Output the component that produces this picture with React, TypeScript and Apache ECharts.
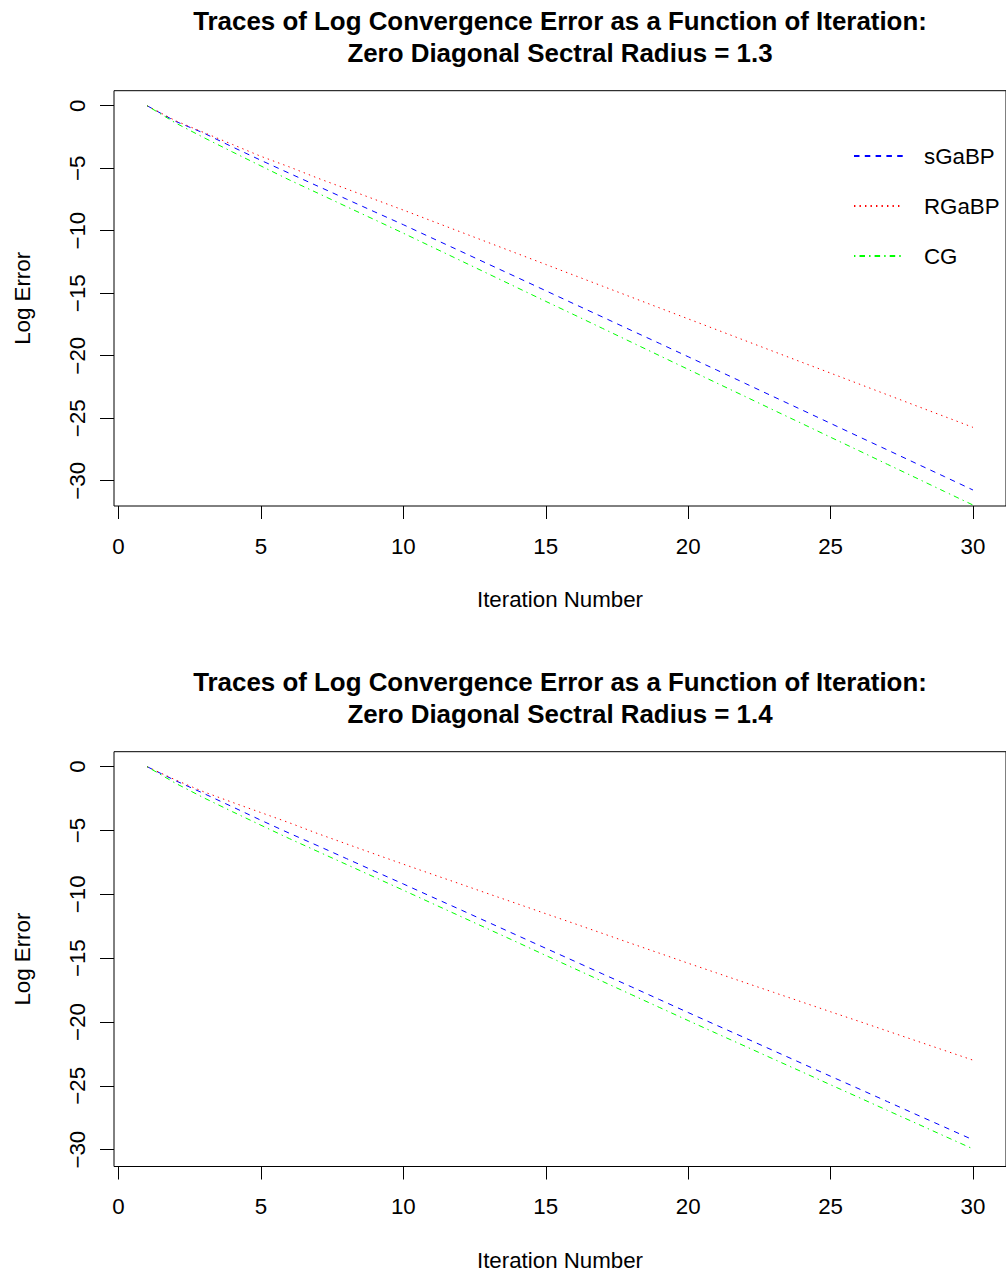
import React, { useEffect, useRef } from "react";
import * as echarts from "echarts";

const iterations = [1, 2, 3, 4, 5, 6, 7, 8, 9, 10, 11, 12, 13, 14, 15, 16, 17, 18, 19, 20, 21, 22, 23, 24, 25, 26, 27, 28, 29, 30];

const seriesNames = ["sGaBP", "RGaBP", "CG"];

// Top panel: spectral radius 1.3
const topSGaBP = [0, -1.25, -2.2, -3.3, -4.37, -5.41, -6.44, -7.47, -8.5, -9.52, -10.58, -11.63, -12.69, -13.74, -14.8, -15.86, -16.91, -17.97, -19.02, -20.08, -21.14, -22.21, -23.28, -24.34, -25.41, -26.48, -27.54, -28.61, -29.67, -30.74];
const topRGaBP = [0, -1.2, -2.15, -3.1, -4.05, -4.9, -5.8, -6.65, -7.5, -8.35, -9.22, -10.09, -10.96, -11.83, -12.7, -13.57, -14.44, -15.31, -16.18, -17.05, -17.92, -18.79, -19.66, -20.53, -21.39, -22.26, -23.13, -24.0, -24.86, -25.73];
const topCG = [0, -1.38, -2.56, -3.7, -4.82, -5.94, -7.0, -8.07, -9.13, -10.2, -11.29, -12.38, -13.47, -14.56, -15.65, -16.73, -17.82, -18.91, -20.0, -21.09, -22.18, -23.26, -24.35, -25.43, -26.52, -27.6, -28.69, -29.77, -30.86, -31.94];

// Bottom panel: spectral radius 1.4
const botSGaBP = [0, -1.1, -2.11, -3.15, -4.2, -5.22, -6.2, -7.2, -8.2, -9.19, -10.2, -11.2, -12.21, -13.22, -14.23, -15.23, -16.24, -17.24, -18.25, -19.26, -20.26, -21.25, -22.25, -23.25, -24.25, -25.24, -26.24, -27.24, -28.23, -29.23];
const botRGaBP = [0, -1.04, -1.98, -2.8, -3.6, -4.4, -5.25, -6.05, -6.85, -7.64, -8.42, -9.19, -9.97, -10.74, -11.52, -12.29, -13.07, -13.85, -14.62, -15.4, -16.16, -16.92, -17.68, -18.44, -19.2, -19.95, -20.71, -21.47, -22.23, -22.99];
const botCG = [0, -1.3, -2.45, -3.53, -4.59, -5.64, -6.65, -7.66, -8.67, -9.68, -10.7, -11.72, -12.74, -13.76, -14.79, -15.81, -16.83, -17.85, -18.87, -19.89, -20.9, -21.9, -22.91, -23.91, -24.92, -25.92, -26.93, -27.93, -28.94, -29.94];

const xTicks = [0, 5, 10, 15, 20, 25, 30];
const yTicks = [0, -5, -10, -15, -20, -25, -30];

const titleTop = "Traces of Log Convergence Error as a Function of Iteration:\nZero Diagonal Sectral Radius = 1.3";
const titleBot = "Traces of Log Convergence Error as a Function of Iteration:\nZero Diagonal Sectral Radius = 1.4";

const FONT = "'Liberation Sans', Arial, Helvetica, sans-serif";
const FS = 22.3;
const colors = ["#0000FF", "#FF0000", "#00FF00"];
const dashes: number[][] = [
  [5.5, 5.3],
  [1.4, 4.1],
  [1.4, 4.1, 5.5, 4.1],
];

export default function App() {
  const ref = useRef<HTMLDivElement>(null);

  useEffect(() => {
    if (!ref.current) return;
    const chart = echarts.init(ref.current, undefined, { renderer: "svg" });

    const panels = [
      { data: [topSGaBP, topRGaBP, topCG], top: 90.7, yMin: -32.02, yMax: 1.2 },
      { data: [botSGaBP, botRGaBP, botCG], top: 751.7, yMin: -31.32, yMax: 1.17 },
    ];

    const grids = panels.map((p) => ({
      left: 114,
      top: p.top,
      width: 893,
      height: 415.3,
      show: true,
      borderColor: "#000",
      borderWidth: 1,
      backgroundColor: "transparent",
    }));

    const xAxes = panels.map((_, i) => ({
      type: "value",
      gridIndex: i,
      position: "bottom",
      min: -0.16,
      max: 31.16,
      name: "Iteration Number",
      nameLocation: "middle",
      nameGap: 82.5,
      nameTextStyle: { fontFamily: FONT, fontSize: FS, color: "#000" },
      axisLine: { show: false, onZero: false },
      axisTick: { show: true, inside: false, length: 13, customValues: xTicks, lineStyle: { color: "#000", width: 1 } },
      axisLabel: { show: true, customValues: xTicks, margin: 29, fontFamily: FONT, fontSize: FS, color: "#000" },
      splitLine: { show: false },
    }));

    const yAxes = panels.map((p, i) => ({
      type: "value",
      gridIndex: i,
      position: "left",
      min: p.yMin,
      max: p.yMax,
      name: "Log Error",
      nameLocation: "middle",
      nameGap: 80.5,
      nameRotate: 90,
      nameTextStyle: { fontFamily: FONT, fontSize: FS, color: "#000" },
      axisLine: { show: false, onZero: false },
      axisTick: { show: true, inside: false, length: 14, customValues: yTicks, lineStyle: { color: "#000", width: 1 } },
      axisLabel: {
        show: true,
        customValues: yTicks,
        rotate: 90,
        margin: 26,
        fontFamily: FONT,
        fontSize: FS,
        color: "#000",
        formatter: (v: number) => String(v).replace("-", "\u2212"),
      },
      splitLine: { show: false },
    }));

    const series: any[] = [];
    panels.forEach((p, pi) => {
      p.data.forEach((vals, si) => {
        series.push({
          type: "line",
          name: seriesNames[si],
          xAxisIndex: pi,
          yAxisIndex: pi,
          data: iterations.map((it, k) => [it, vals[k]]),
          symbol: "none",
          showSymbol: false,
          clip: true,
          lineStyle: { color: colors[si], width: 1, type: dashes[si] },
          itemStyle: { color: colors[si] },
        });
      });
    });

    const titleStyle = { fontFamily: FONT, fontWeight: "bold", fontSize: 25.9, lineHeight: 32, color: "#000" };

    chart.setOption({
      animation: false,
      backgroundColor: "#fff",
      title: [
        { text: titleTop, left: 560, top: 5, padding: 0, textAlign: "center", textStyle: titleStyle },
        { text: titleBot, left: 560, top: 666, padding: 0, textAlign: "center", textStyle: titleStyle },
      ],
      legend: {
        data: seriesNames,
        orient: "vertical",
        left: 853,
        top: 145,
        padding: 0,
        itemWidth: 49,
        itemHeight: 20,
        itemGap: 28,
        itemStyle: { opacity: 0 },
        textStyle: { fontFamily: FONT, fontSize: FS, color: "#000", padding: [0, 0, 0, 16] },
      },
      grid: grids,
      xAxis: xAxes,
      yAxis: yAxes,
      series,
    } as any);

    return () => chart.dispose();
  }, []);

  return (
    <div
      ref={ref}
      style={{ position: "absolute", left: 0, top: 0, width: 1006, height: 1272 }}
    />
  );
}
